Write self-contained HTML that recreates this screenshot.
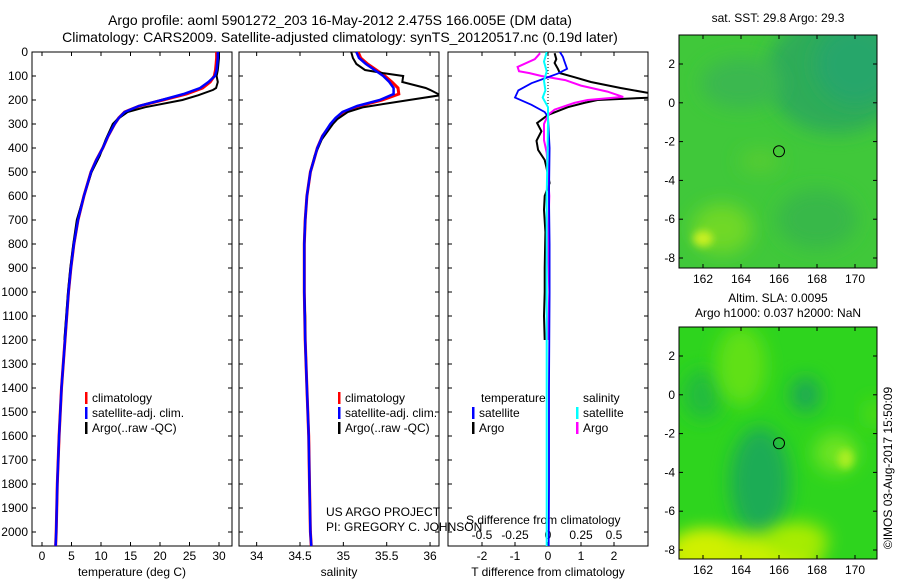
<!DOCTYPE html>
<html><head><meta charset="utf-8"><style>
body{margin:0;background:#fff;}
svg{display:block;font-family:"Liberation Sans",sans-serif;}
text{font-size:12px;fill:#000;}
</style></head><body>
<svg id="c" width="900" height="580" viewBox="0 0 900 580">
<defs>
<clipPath id="cp1"><rect x="32" y="52" width="200" height="494"/></clipPath>
<clipPath id="cp2"><rect x="239" y="52" width="200" height="494"/></clipPath>
<clipPath id="cp3"><rect x="448" y="52" width="200" height="494"/></clipPath>
<clipPath id="cm1"><rect x="679" y="35" width="198" height="233"/></clipPath>
<clipPath id="cm2"><rect x="679" y="327" width="198" height="232"/></clipPath>
<filter id="bl" x="-50%" y="-50%" width="200%" height="200%"><feGaussianBlur stdDeviation="9"/></filter>
<filter id="bl2" x="-50%" y="-50%" width="200%" height="200%"><feGaussianBlur stdDeviation="4"/></filter>
</defs>
<text x="340" y="25" text-anchor="middle" style="font-size:14px">Argo profile: aoml 5901272_203 16-May-2012 2.475S 166.005E (DM data)</text>
<text x="340" y="42" text-anchor="middle" style="font-size:14px">Climatology: CARS2009. Satellite-adjusted climatology: synTS_20120517.nc (0.19d later)</text>
<g id="axes"></g>
<g id="series"></g>
<g id="maps"></g>
</svg>
<script>
// ---- data ----
const climDepth=[0,25,50,75,100,125,150,175,200,225,250,275,300,350,400,450,500,600,700,800,900,1000,1200,1400,1600,1800,2000,2060];
const tempClim=[29.6,29.6,29.5,29.4,29.2,28.5,27.2,24.5,20.5,16.5,14.0,13.0,12.3,11.2,10.3,9.2,8.3,7.1,6.1,5.4,4.9,4.5,3.9,3.3,2.9,2.6,2.4,2.3];
const tempSat=[29.8,29.8,29.7,29.6,29.3,28.2,26.8,24.0,20.3,16.4,14.0,13.0,12.3,11.2,10.3,9.2,8.3,7.1,6.1,5.4,4.9,4.5,3.9,3.3,2.9,2.6,2.4,2.3];
const salClim=[35.17,35.2,35.28,35.38,35.48,35.56,35.63,35.64,35.45,35.18,35.0,34.92,34.86,34.76,34.7,34.66,34.62,34.58,34.56,34.55,34.55,34.55,34.56,34.58,34.6,34.61,34.62,34.63];
const salSat=[35.15,35.18,35.26,35.36,35.46,35.53,35.58,35.58,35.42,35.16,34.99,34.91,34.85,34.76,34.7,34.66,34.62,34.58,34.56,34.55,34.55,34.55,34.56,34.58,34.6,34.61,34.62,34.63];
const argoDepth=[0,25,50,75,88,100,125,150,158,180,200,230,250,280,300,365,432,500,600,700,800,900,1000,1100,1200];
const tempArgo=[30.0,30.0,29.9,29.8,29.7,29.6,29.8,29.5,29.0,26.5,23.8,17.5,14.5,12.8,12.0,10.8,9.8,8.4,7.1,5.9,5.3,4.8,4.4,4.1,3.8];
const salArgo=[35.09,35.11,35.15,35.25,35.46,35.69,35.68,35.95,36.0,36.12,35.76,35.23,35.05,34.93,34.88,34.75,34.67,34.62,34.58,34.56,34.55,34.55,34.55,34.56,34.56];
const dTsatDepth=[0,20,40,70,90,110,130,160,190,220,250,270,400,600,800,1000,1400,1800,2060];
const dTsat=[0.36,0.45,0.5,0.58,0.3,-0.1,-0.5,-0.9,-1.0,-0.5,-0.1,0,0.05,0.03,0.05,0.05,0.03,0.03,0.02];
const dTargoDepth=[5,30,46,70,88,105,125,150,172,190,200,212,230,262,296,330,370,408,450,480,546,600,658,750,900,1000,1100,1200];
const dTargo=[0.2,0.25,0.2,0.3,0.36,0.8,1.3,2.2,3.1,3.1,1.5,1.1,0.6,0,-0.33,-0.2,-0.35,-0.3,-0.1,-0.05,0.05,-0.1,-0.12,-0.08,-0.1,-0.1,-0.12,-0.1];
const dSargoDepth=[5,30,62,80,88,100,117,140,165,187,200,212,240,262,300,367,420,504,600,800,1000,1200];
const dSargo=[-0.06,-0.1,-0.23,-0.22,-0.14,-0.05,0.13,0.25,0.45,0.57,0.3,0.2,0.05,0,-0.03,-0.03,-0.01,0,0.01,0,0.01,0];
const dSsatDepth=[0,40,80,120,160,190,230,300,600,1000,1500,2060];
const dSsat=[-0.01,-0.03,-0.01,-0.03,-0.02,-0.04,0,0,-0.01,-0.01,-0.01,-0.01];
const depthTicks=[0,100,200,300,400,500,600,700,800,900,1000,1100,1200,1300,1400,1500,1600,1700,1800,1900,2000];
const tempTicks=[0,5,10,15,20,25,30];
const salTicks=[34,34.5,35,35.5,36];
const dTTicks=[-2,-1,0,1,2];
const dSTickLabels=["-0.5","-0.25","0","0.25","0.5"];
const lonTicks=[162,164,166,168,170];
const latTicks=[2,0,-2,-4,-6,-8];

// ---- scales ----
const yD=d=>52+d*0.24;
const xT=v=>42+v*5.9;
const xS=v=>300+(v-34.5)*86.7;
const xDT=v=>548+v*33;
const xDS=v=>548+v*132;
const NS='http://www.w3.org/2000/svg';
function mk(tag,attrs,parent,txt){const e=document.createElementNS(NS,tag);for(const k in attrs)e.setAttribute(k,attrs[k]);if(txt!==undefined)e.textContent=txt;parent.appendChild(e);return e;}
const axes=document.getElementById('axes'), ser=document.getElementById('series'), maps=document.getElementById('maps');

function panel(x0,name,xs,ticks,labels,title){
  const g=mk('g',{},axes);
  
  
  const f=mk('rect',{x:x0,y:52,width:200,height:494,fill:'none',stroke:'#000','stroke-width':1},g);
  
  
  depthTicks.forEach(d=>{mk('line',{x1:x0,x2:x0+4,y1:yD(d),y2:yD(d),stroke:'#000'},g);mk('line',{x1:x0+196,x2:x0+200,y1:yD(d),y2:yD(d),stroke:'#000'},g);});
  ticks.forEach((t,i)=>{const x=xs(t);mk('line',{x1:x,x2:x,y1:52,y2:56,stroke:'#000'},g);mk('line',{x1:x,x2:x,y1:542,y2:546,stroke:'#000'},g);
    const l=mk('text',{x:x,y:560,'text-anchor':'middle'},g,labels[i]);
    
    });
  const t=mk('text',{x:x0+100,y:576,'text-anchor':'middle'},g,title);
  
  
}
panel(32,'temperature',xT,tempTicks,tempTicks.map(String),'temperature (deg C)');
panel(239,'salinity',xS,salTicks,salTicks.map(String),'salinity');
panel(448,'difference',xDT,dTTicks,dTTicks.map(String),'T difference from climatology');
depthTicks.forEach(d=>{const l=mk('text',{x:28,y:yD(d)+4,'text-anchor':'end'},axes,String(d));
  
  });
[-0.5,-0.25,0,0.25,0.5].forEach((v,i)=>{const l=mk('text',{x:xDS(v),y:539,'text-anchor':'middle'},axes,dSTickLabels[i]);
  
  });
const sl=mk('text',{x:466,y:524},axes,'S difference from climatology');


mk('line',{x1:548,x2:548,y1:52,y2:yD(260),stroke:'#000','stroke-dasharray':'1,2'},axes);

function line(ds,vs,xs,color,w,clip,name){
  const pts=ds.map((d,i)=>xs(vs[i]).toFixed(1)+','+yD(d).toFixed(1)).join(' ');
  const p=mk('polyline',{points:pts,fill:'none',stroke:color,'stroke-width':w,'clip-path':'url(#'+clip+')'},ser);
  
  
}
line(climDepth,tempClim,xT,'#f00',3,'cp1','temperature-climatology-line');
line(argoDepth,tempArgo,xT,'#000',2,'cp1','temperature-argo-line');
line(climDepth,tempSat,xT,'#00f',2.5,'cp1','temperature-satellite-line');
line(climDepth,salClim,xS,'#f00',3,'cp2','salinity-climatology-line');
line(argoDepth,salArgo,xS,'#000',2,'cp2','salinity-argo-line');
line(climDepth,salSat,xS,'#00f',2.5,'cp2','salinity-satellite-line');
line(dTargoDepth,dTargo,xDT,'#000',2,'cp3','t-diff-argo-line');
line(dSargoDepth,dSargo,xDS,'#f0f',2,'cp3','s-diff-argo-line');
line(dTsatDepth,dTsat,xDT,'#00f',1.8,'cp3','t-diff-satellite-line');
line(dSsatDepth,dSsat,xDS,'#0ff',2,'cp3','s-diff-satellite-line');

function legend(x,y,color,label,name){
  const g=mk('g',{},ser);
  
  
  mk('rect',{x:x,y:y-10,width:2.5,height:12,fill:color},g);
  mk('text',{x:x+7,y:y},g,label);
}
[[85,'#f00','climatology'],[85,'#00f','satellite-adj. clim.'],[85,'#000','Argo(..raw -QC)']].forEach((e,i)=>{legend(e[0],402+i*15,e[1],e[2],'temperature-legend-entry');legend(e[0]+253,402+i*15,e[1],e[2],'salinity-legend-entry');});
const lt=mk('text',{x:481,y:402},ser,'temperature');
const ls=mk('text',{x:583,y:402},ser,'salinity');
legend(472,417,'#00f','satellite','diff-legend-entry');
legend(472,432,'#000','Argo','diff-legend-entry');
legend(576,417,'#0ff','satellite','diff-legend-entry');
legend(576,432,'#f0f','Argo','diff-legend-entry');
const u1=mk('text',{x:326,y:516},ser,'US ARGO PROJECT');
const u2=mk('text',{x:326,y:531},ser,'PI: GREGORY C. JOHNSON');

// ---- maps ----
function mapPanel(top,bot,clip,name,base,blobs){
  const g=mk('g',{},maps);
  
  
  const lonX=l=>703+(l-162)*19;
  const latY=a=>top+29+(2-a)*19.4;
  const inner=mk('g',{'clip-path':'url(#'+clip+')'},g);
  mk('rect',{x:679,y:top,width:198,height:bot-top,fill:base},inner);
  blobs.forEach(b=>mk('ellipse',{cx:lonX(b[0]),cy:latY(b[1]),rx:b[2],ry:b[3],fill:b[4],filter:'url(#'+(b[5]||'bl')+')'},inner));
  mk('rect',{x:679,y:top,width:198,height:bot-top,fill:'none',stroke:'#000'},g);
  lonTicks.forEach(l=>{const x=lonX(l);mk('line',{x1:x,x2:x,y1:bot,y2:bot-4,stroke:'#000'},g);mk('line',{x1:x,x2:x,y1:top,y2:top+4,stroke:'#000'},g);
    mk('text',{x:x,y:bot+15,'text-anchor':'middle'},g,String(l));});
  latTicks.forEach(a=>{const y=latY(a);mk('line',{x1:679,x2:683,y1:y,y2:y,stroke:'#000'},g);mk('line',{x1:873,x2:877,y1:y,y2:y,stroke:'#000'},g);
    mk('text',{x:675,y:y+4,'text-anchor':'end'},g,String(a));});
  const c=mk('circle',{cx:lonX(166),cy:latY(-2.5),r:5.5,fill:'none',stroke:'#000'},g);
  
  
}
mapPanel(35,268,'cm1','sst-map','#40c83a',[
  [169,1.5,70,60,'#2eac58'],[170,2,40,40,'#28a66a'],[164,1,40,25,'#3ab850'],
  [163,-6.5,30,25,'#70d828'],[162,-7,10,8,'#c8f020','bl2'],[165,-3,20,12,'#55cc30'],[168,-6,40,30,'#38b848']]);
mapPanel(327,559,'cm2','sla-map','#2ed41e',[
  [165,-4.5,30,55,'#1aac55'],[167.4,0,15,18,'#1aa855'],[162,0,20,25,'#22bc3c'],
  [164,1.5,25,40,'#60e018'],[169,-3,22,20,'#6ee420'],[169.5,-3.3,8,10,'#a8ee20','bl2'],
  [164,-8.3,80,22,'#c8f000'],[167,-7.5,30,18,'#a8ec00'],[162,-8,30,20,'#d0f000'],[171,-1,10,15,'#50dc18']]);
const t1=mk('text',{x:778,y:22,'text-anchor':'middle'},maps,'sat. SST: 29.8  Argo: 29.3');
const t2=mk('text',{x:778,y:302,'text-anchor':'middle'},maps,'Altim. SLA: 0.0095');
const t3=mk('text',{x:778,y:317,'text-anchor':'middle'},maps,'Argo h1000: 0.037 h2000: NaN');
const cr=mk('text',{x:892,y:468,'text-anchor':'middle',transform:'rotate(-90 892 468)'},maps,'©IMOS 03-Aug-2017 15:50:09');
</script>
</body></html>
